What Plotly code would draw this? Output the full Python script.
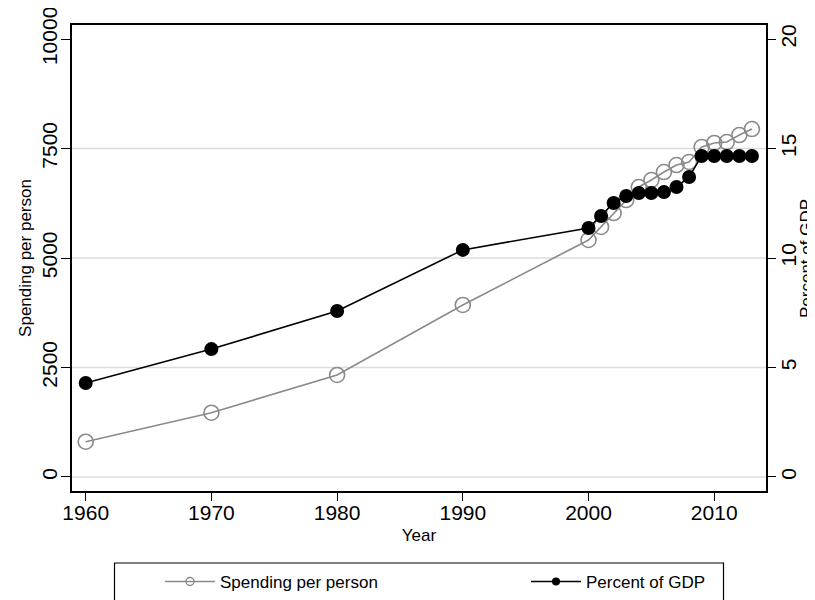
import plotly.graph_objects as go

years = [1960, 1970, 1980, 1990, 2000, 2001, 2002, 2003, 2004, 2005, 2006,
         2007, 2008, 2009, 2010, 2011, 2012, 2013]
spending = [806, 1468, 2329, 3927, 5411, 5708, 6027, 6324, 6621, 6781, 6963,
            7123, 7192, 7534, 7626, 7648, 7808, 7945]
pct_gdp = [4.29, 5.84, 7.58, 10.37, 11.37, 11.92, 12.51, 12.83, 12.97, 12.97,
           13.01, 13.24, 13.70, 14.66, 14.66, 14.66, 14.66, 14.66]

x_ticks = [1960, 1970, 1980, 1990, 2000, 2010]
y1_ticks = [0, 2500, 5000, 7500, 10000]
y2_ticks = [0, 5, 10, 15, 20]

GRAY = "#8a8a8a"
FONT = "Liberation Sans, Arial, sans-serif"

fig = go.Figure()

fig.add_trace(go.Scatter(
    x=years, y=spending, mode="lines+markers", name="Spending per person",
    line=dict(color=GRAY, width=1.6),
    marker=dict(symbol="circle-open", size=15, color=GRAY, line=dict(width=1.6)),
    showlegend=False, yaxis="y"))
fig.add_trace(go.Scatter(
    x=years, y=pct_gdp, mode="lines+markers", name="Percent of GDP",
    line=dict(color="black", width=1.6),
    marker=dict(symbol="circle", size=14, color="black"),
    showlegend=False, yaxis="y2"))

# legend entries (smaller symbols, as in the reference)
fig.add_trace(go.Scatter(
    x=[None], y=[None], mode="lines+markers", name="Spending per person",
    line=dict(color=GRAY, width=1.6), legend="legend",
    marker=dict(symbol="circle-open", size=8, color=GRAY, line=dict(width=1.4))))
fig.add_trace(go.Scatter(
    x=[None], y=[None], mode="lines+markers", name="Percent of GDP",
    line=dict(color="black", width=1.6), legend="legend2",
    marker=dict(symbol="circle", size=8, color="black")))

# gridlines (not at the top tick)
for v in y1_ticks[:-1]:
    fig.add_shape(type="line", xref="paper", x0=0, x1=1, yref="y", y0=v, y1=v,
                  line=dict(color="#dcdcdc", width=1.6), layer="below")

# the page puts the figure 8 px in from the window's top-left corner
OFF = 8
W, H = 815 - OFF, 600 - OFF
L, T = 72 - OFF, 25 - OFF
R, B = 815 - 766, 600 - 491
pw, ph = W - L - R, H - T - B


def px_x(p):
    return (p - OFF - L) / pw


def px_y(p):
    return (H - B - (p - OFF)) / ph


# legend frame
fig.add_shape(type="rect", xref="paper", yref="paper",
              x0=px_x(114.5), x1=px_x(723.5), y0=px_y(563), y1=px_y(603),
              line=dict(color="black", width=1.2), fillcolor="rgba(0,0,0,0)")

# right-axis title (kept inside the page edge)
fig.add_annotation(text="Percent of GDP", xref="paper", yref="paper",
                   x=px_x(806), y=0.5, xanchor="center", yanchor="middle",
                   textangle=-90, showarrow=False,
                   font=dict(size=17, color="black", family=FONT))

axis_common = dict(showline=True, linecolor="black", linewidth=1.5,
                   ticks="outside", tickcolor="black", tickwidth=1.2,
                   showgrid=False, zeroline=False, automargin=False,
                   tickformat="d", ticklabeloverflow="allow",
                   tickfont=dict(size=21, color="black", family=FONT))

legend_common = dict(orientation="h", xanchor="left", yanchor="middle",
                     y=px_y(582), font=dict(size=17), itemwidth=50,
                     bgcolor="rgba(0,0,0,0)", borderwidth=0)

fig.update_layout(
    width=W, height=H,
    margin=dict(l=L, r=R, t=T, b=B, autoexpand=False),
    paper_bgcolor="white", plot_bgcolor="white",
    font=dict(family=FONT, color="black", size=17),
    xaxis=dict(range=[1958.91, 2014.12], tickvals=x_ticks, ticklen=8,
               mirror=True, ticklabelstandoff=-6,
               title=dict(text="Year", font=dict(size=17), standoff=6),
               **axis_common),
    yaxis=dict(range=[-320, 10320], tickvals=y1_ticks, ticklen=9,
               tickangle=-90, ticklabelstandoff=-4,
               title=dict(text="Spending per person", font=dict(size=17), standoff=2),
               **axis_common),
    yaxis2=dict(range=[-0.64, 20.64], tickvals=y2_ticks, ticklen=8,
                tickangle=-90, overlaying="y", side="right",
                ticklabelstandoff=-5,
                **axis_common),
    legend=dict(x=px_x(160), **legend_common),
    legend2=dict(x=px_x(526), **legend_common),
)

fig.write_html("out.html")
